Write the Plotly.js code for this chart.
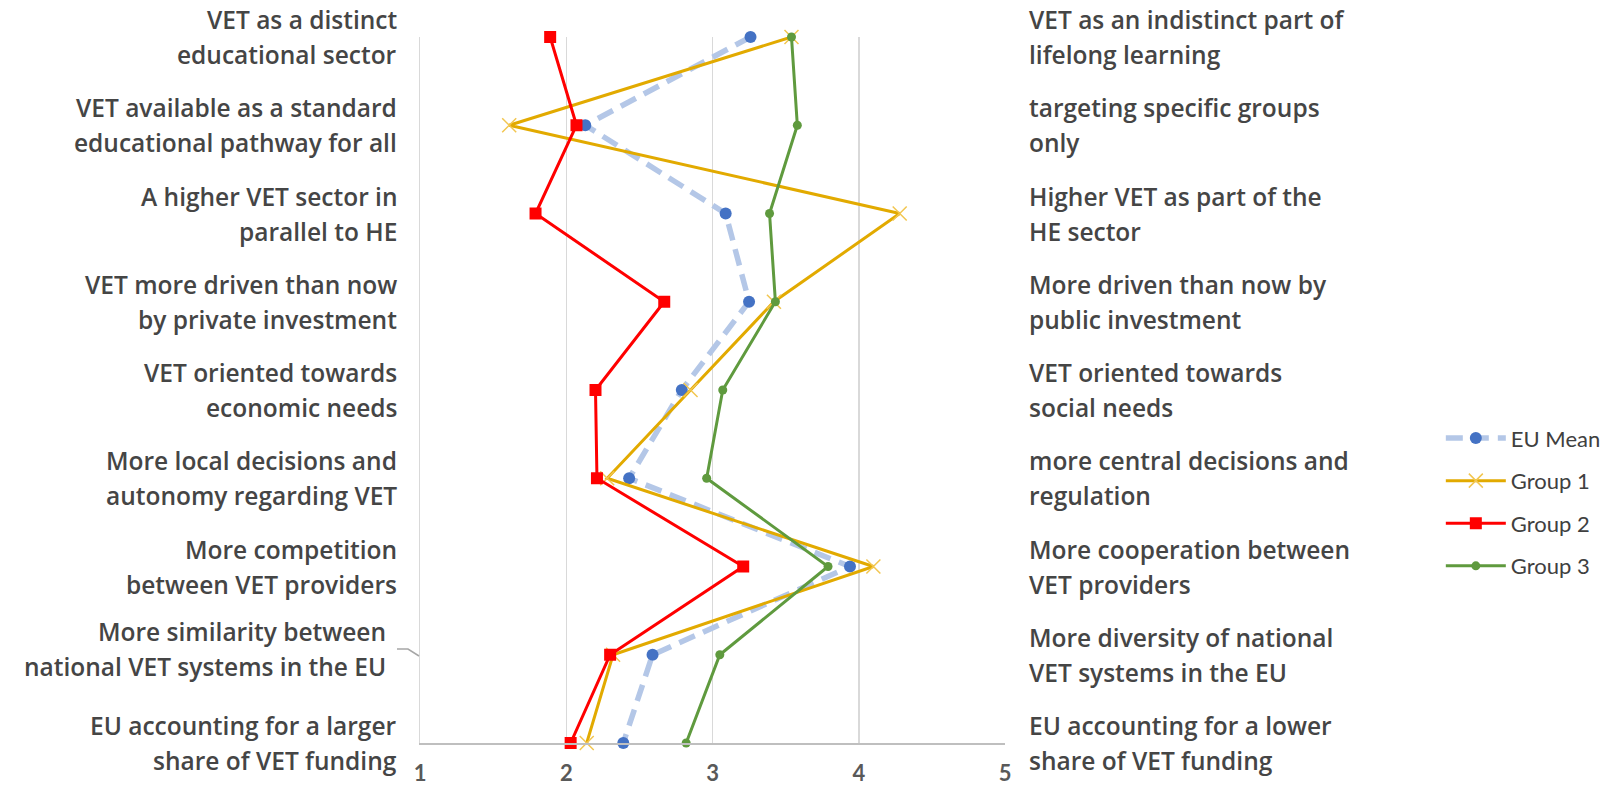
<!DOCTYPE html>
<html>
<head>
<meta charset="utf-8">
<script src="https://cdn.plot.ly/plotly-3.0.1.min.js"></script>
<style>
  html, body { margin: 0; padding: 0; background: #fff; }
  #chart { width: 1617px; height: 789px; }
</style>
</head>
<body>
<div id="chart"></div>
<script>
// ---- data ----
const leftLabels = [
  "VET as a distinct<br>educational sector",
  "VET available as a standard<br>educational pathway for all",
  "A higher VET sector in<br>parallel to HE",
  "VET more driven than now<br>by private investment",
  "VET oriented towards<br>economic needs",
  "More local decisions and<br>autonomy regarding VET",
  "More competition<br>between VET providers",
  "More similarity between<br>national VET systems in the EU",
  "EU accounting for a larger<br>share of VET funding"
];
const rightLabels = [
  "VET as an indistinct part of<br>lifelong learning",
  "targeting specific groups<br>only",
  "Higher VET as part of the<br>HE sector",
  "More driven than now by<br>public investment",
  "VET oriented towards<br>social needs",
  "more central decisions and<br>regulation",
  "More cooperation between<br>VET providers",
  "More diversity of national<br>VET systems in the EU",
  "EU accounting for a lower<br>share of VET funding"
];
const seriesNames = ["EU Mean", "Group 1", "Group 2", "Group 3"];
const euMean = [3.26, 2.13, 3.09, 3.25, 2.79, 2.43, 3.94, 2.59, 2.39];
const group1 = [3.54, 1.61, 4.28, 3.42, 2.85, 2.28, 4.10, 2.32, 2.14];
const group2 = [1.89, 2.07, 1.79, 2.67, 2.20, 2.21, 3.21, 2.30, 2.03];
const group3 = [3.54, 3.58, 3.39, 3.43, 3.07, 2.96, 3.79, 3.05, 2.82];
const xTicks = [1, 2, 3, 4, 5];

// ---- chart ----
const rows = leftLabels.map((_, i) => i);
const labelFont = { family: "'Open Sans', Lato, sans-serif", size: 24.5, color: "#454545", weight: 600 };
const LINE_GAP = 35;

const traces = [
  {
    name: seriesNames[0], x: euMean, y: rows, type: "scatter", mode: "lines+markers",
    line: { color: "#B4C7E7", width: 5.5, dash: "17px,9px" },
    marker: { color: "#4472C4", size: 12, symbol: "circle" },
    cliponaxis: false, legendgroup: "a"
  },
  {
    name: seriesNames[1], x: group1, y: rows, type: "scatter", mode: "lines+markers",
    line: { color: "#E2AA00", width: 3 },
    marker: { symbol: "x-thin", size: 14, color: "#F2C650", line: { color: "#F2C650", width: 1.5 } },
    cliponaxis: false, legendgroup: "b"
  },
  {
    name: seriesNames[2], x: group2, y: rows, type: "scatter", mode: "lines+markers",
    line: { color: "#FF0000", width: 3 },
    marker: { symbol: "square", size: 12, color: "#FF0000" },
    cliponaxis: false, legendgroup: "c"
  },
  {
    name: seriesNames[3], x: group3, y: rows, type: "scatter", mode: "lines+markers",
    line: { color: "#5F9A3E", width: 3 },
    marker: { symbol: "circle", size: 9, color: "#5F9A3E" },
    cliponaxis: false, legendgroup: "d"
  }
];

const annotations = [];
function addLabel(t, i, xPaper, side, dx, dy) {
  const lines = t.split("<br>");
  const n = lines.length;
  lines.forEach((ln, j) => {
    annotations.push({
      text: ln, xref: "paper", yref: "y", x: xPaper, y: i,
      xanchor: side, yanchor: "middle", align: side, showarrow: false,
      xshift: dx, yshift: dy + ((n - 1) / 2 - j) * LINE_GAP,
      font: labelFont
    });
  });
}
leftLabels.forEach((t, i) => {
  const special = (i === 7);
  addLabel(t, i, -0.036, "right", special ? -11 : 0, special ? 6 : 0);
});
rightLabels.forEach((t, i) => addLabel(t, i, 1.0376, "left", 0, 0));

// leader line for the moved label (paper coords)
const plotL = 420, plotW = 585, plotT = 37, plotH = 706;
function px(xp) { return (xp - plotL) / plotW; }
function py(yp) { return (plotT + plotH - yp) / plotH; }
const shapes = [{
  type: "path", xref: "paper", yref: "paper",
  path: `M${px(397)},${py(649)} L${px(408)},${py(649)} L${px(419)},${py(656)}`,
  line: { color: "#A6A6A6", width: 1.5 }
}];

const layout = {
  width: 1617, height: 789,
  margin: { l: plotL, r: 1617 - plotL - plotW, t: plotT, b: 789 - plotT - plotH, pad: 0 },
  paper_bgcolor: "#ffffff", plot_bgcolor: "#ffffff",
  showlegend: true,
  legend: {
    x: 1.745, xanchor: "left", y: 0.341, yanchor: "middle",
    font: { family: "Lato, sans-serif", size: 22, color: "#404040" },
    traceorder: "grouped", tracegroupgap: 11, itemwidth: 60,
    bgcolor: "rgba(0,0,0,0)"
  },
  xaxis: {
    range: [1, 5], tickvals: xTicks, ticktext: xTicks.map(String),
    showgrid: true, gridcolor: "#D9D9D9", gridwidth: 1.5,
    zeroline: false, showline: true, linecolor: "#BFBFBF", linewidth: 2,
    ticks: "outside", ticklen: 10, tickcolor: "rgba(0,0,0,0)",
    tickfont: { family: "Lato, sans-serif", size: 22, color: "#595959", weight: 700 },
    fixedrange: true
  },
  yaxis: {
    range: [8, 0], showgrid: false, zeroline: false, showticklabels: false,
    showline: true, linecolor: "#D9D9D9", linewidth: 1.5, ticks: "",
    fixedrange: true
  },
  annotations: annotations,
  shapes: shapes
};

Plotly.newPlot("chart", traces, layout, { displayModeBar: false, staticPlot: true });
</script>
</body>
</html>
